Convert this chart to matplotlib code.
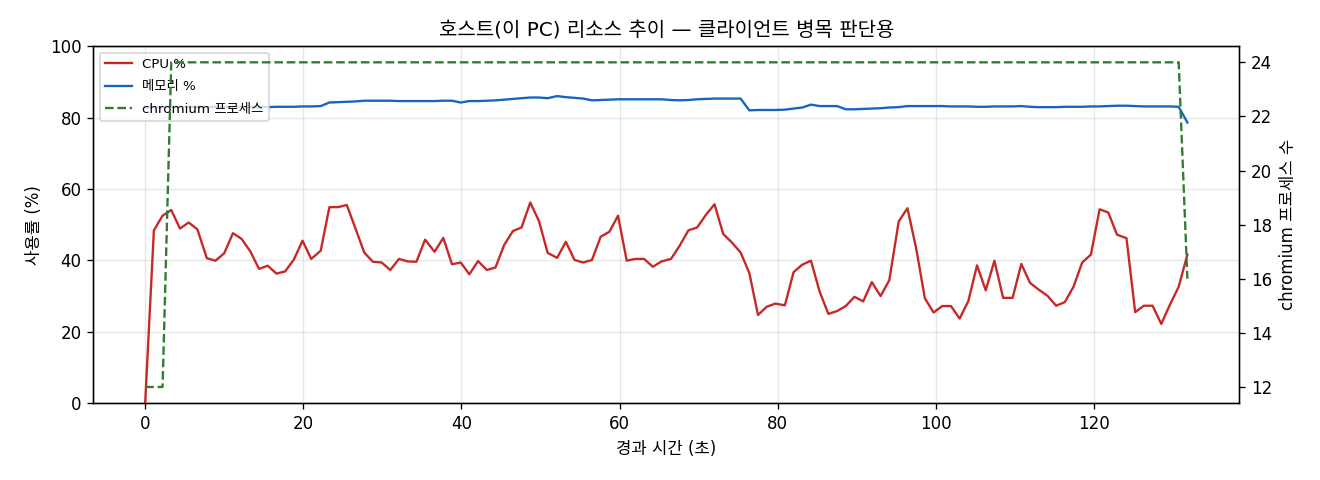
import matplotlib
matplotlib.use("Agg")
import matplotlib.pyplot as plt

# wide latin glyphs from DejaVu, hangul falls back to Noto CJK
plt.rcParams['font.family'] = ['DejaVu Sans', 'Noto Sans CJK KR']
plt.rcParams['axes.unicode_minus'] = False

# elapsed seconds of each sample
elapsed_sec = [
    0.0, 1.1, 2.2, 3.3, 4.4, 5.5, 6.6, 7.8, 8.9, 10.0,
    11.1, 12.2, 13.3, 14.4, 15.5, 16.6, 17.7, 18.8, 19.9, 21.0,
    22.2, 23.3, 24.4, 25.5, 26.6, 27.7, 28.8, 29.9, 31.0, 32.1,
    33.2, 34.3, 35.4, 36.6, 37.7, 38.8, 39.9, 41.0, 42.1, 43.2,
    44.3, 45.4, 46.5, 47.6, 48.7, 49.8, 50.9, 52.1, 53.2, 54.3,
    55.4, 56.5, 57.6, 58.7, 59.8, 60.9, 62.0, 63.1, 64.2, 65.3,
    66.5, 67.6, 68.7, 69.8, 70.9, 72.0, 73.1, 74.2, 75.3, 76.4,
    77.5, 78.6, 79.7, 80.9, 82.0, 83.1, 84.2, 85.3, 86.4, 87.5,
    88.6, 89.7, 90.8, 91.9, 93.0, 94.1, 95.3, 96.4, 97.5, 98.6,
    99.7, 100.8, 101.9, 103.0, 104.1, 105.2, 106.3, 107.4, 108.5, 109.7,
    110.8, 111.9, 113.0, 114.1, 115.2, 116.3, 117.4, 118.5, 119.6, 120.7,
    121.8, 122.9, 124.1, 125.2, 126.3, 127.4, 128.5, 129.6, 130.7, 131.8,
]

cpu_pct = [
    0.0, 48.4, 52.5, 54.1, 48.9, 50.6, 48.7, 40.6, 39.9, 42.0,
    47.6, 46.0, 42.5, 37.6, 38.5, 36.3, 36.9, 40.2, 45.5, 40.4,
    42.7, 54.9, 54.9, 55.5, 48.9, 42.2, 39.6, 39.4, 37.3, 40.4,
    39.7, 39.6, 45.8, 42.4, 46.3, 38.9, 39.4, 36.1, 39.8, 37.3,
    38.0, 44.3, 48.2, 49.2, 56.2, 51.0, 42.1, 40.7, 45.2, 40.1,
    39.4, 40.1, 46.6, 48.0, 52.5, 39.9, 40.4, 40.4, 38.2, 39.7,
    40.4, 44.1, 48.4, 49.2, 52.7, 55.7, 47.4, 45.0, 42.2, 36.5,
    24.7, 27.0, 27.9, 27.4, 36.7, 38.8, 39.9, 31.2, 25.0, 25.8,
    27.2, 29.8, 28.5, 33.9, 30.0, 34.4, 50.9, 54.6, 43.4, 29.4,
    25.4, 27.2, 27.2, 23.7, 28.6, 38.6, 31.6, 39.9, 29.5, 29.5,
    39.0, 33.7, 31.8, 30.1, 27.3, 28.3, 32.6, 39.4, 41.6, 54.3,
    53.4, 47.2, 46.2, 25.5, 27.3, 27.3, 22.2, 27.6, 32.6, 41.6,
]

mem_pct = [
    82.8, 82.9, 82.9, 83.0, 83.0, 83.0, 82.9, 82.9, 83.0, 83.0,
    83.0, 82.9, 83.0, 82.9, 82.9, 83.0, 83.0, 83.0, 83.1, 83.1,
    83.2, 84.2, 84.3, 84.4, 84.5, 84.7, 84.7, 84.7, 84.7, 84.6,
    84.6, 84.6, 84.6, 84.6, 84.7, 84.7, 84.2, 84.6, 84.6, 84.7,
    84.8, 85.0, 85.2, 85.4, 85.6, 85.6, 85.4, 86.0, 85.7, 85.5,
    85.3, 84.8, 84.9, 85.0, 85.1, 85.1, 85.1, 85.1, 85.1, 85.1,
    84.9, 84.8, 84.9, 85.1, 85.2, 85.3, 85.3, 85.3, 85.3, 82.0,
    82.1, 82.1, 82.1, 82.2, 82.5, 82.8, 83.6, 83.2, 83.2, 83.2,
    82.3, 82.3, 82.4, 82.5, 82.6, 82.8, 82.9, 83.2, 83.2, 83.2,
    83.2, 83.2, 83.1, 83.1, 83.1, 83.0, 83.0, 83.1, 83.1, 83.1,
    83.2, 83.0, 82.9, 82.9, 82.9, 83.0, 83.0, 83.0, 83.1, 83.1,
    83.2, 83.3, 83.3, 83.2, 83.1, 83.1, 83.1, 83.1, 83.0, 78.6,
]

chromium_procs = [
    12, 12, 12, 24, 24, 24, 24, 24, 24, 24,
    24, 24, 24, 24, 24, 24, 24, 24, 24, 24,
    24, 24, 24, 24, 24, 24, 24, 24, 24, 24,
    24, 24, 24, 24, 24, 24, 24, 24, 24, 24,
    24, 24, 24, 24, 24, 24, 24, 24, 24, 24,
    24, 24, 24, 24, 24, 24, 24, 24, 24, 24,
    24, 24, 24, 24, 24, 24, 24, 24, 24, 24,
    24, 24, 24, 24, 24, 24, 24, 24, 24, 24,
    24, 24, 24, 24, 24, 24, 24, 24, 24, 24,
    24, 24, 24, 24, 24, 24, 24, 24, 24, 24,
    24, 24, 24, 24, 24, 24, 24, 24, 24, 24,
    24, 24, 24, 24, 24, 24, 24, 24, 24, 16,
]

fig, ax = plt.subplots(figsize=(11, 4), dpi=120)

l1, = ax.plot(elapsed_sec, cpu_pct, color='#c62828', lw=1.4, label='CPU %')
l2, = ax.plot(elapsed_sec, mem_pct, color='#1565c0', lw=1.4, label='메모리 %')
ax.set_ylim(0, 100)
ax.set_xlabel('경과 시간 (초)')
ax.set_ylabel('사용률 (%)')
ax.grid(True, alpha=0.3)

ax2 = ax.twinx()
l3, = ax2.plot(elapsed_sec, chromium_procs, color='#2e7d32', lw=1.4, ls='--',
               label='chromium 프로세스')
ax2.set_ylabel('chromium 프로세스 수')

ax.legend(handles=[l1, l2, l3], loc='upper left', fontsize=8, labelspacing=0.7)
ax.set_title('호스트(이 PC) 리소스 추이 — 클라이언트 병목 판단용', fontsize=12)

fig.subplots_adjust(left=0.0705, right=0.939, top=0.904, bottom=0.16)
fig.savefig('out.png', dpi=120)
